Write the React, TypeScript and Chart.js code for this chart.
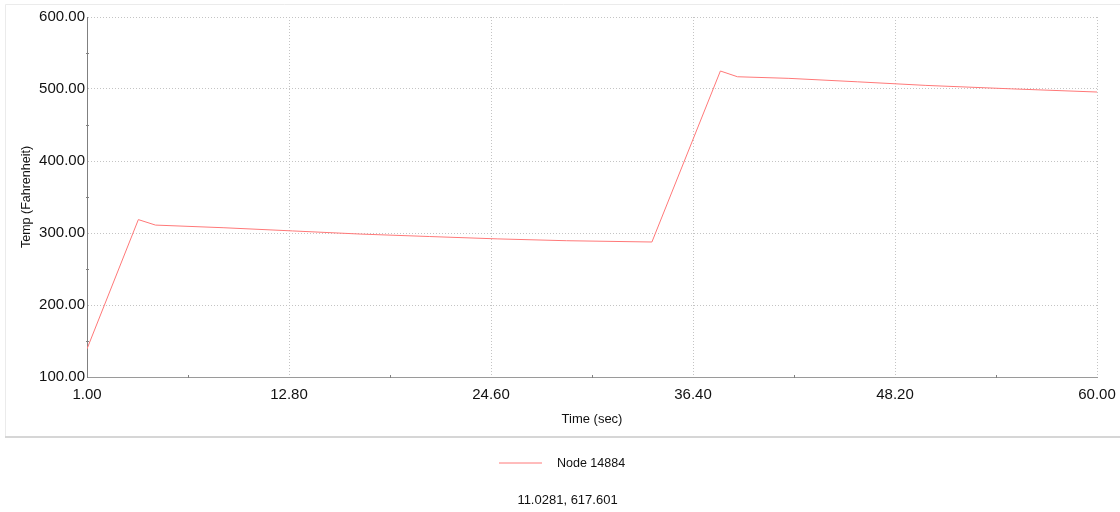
import React, { useEffect, useRef } from "react";
import { Chart, registerables } from "chart.js";

Chart.register(...registerables);

// ---- data ----
const timeSec = [1, 4, 5, 9, 13, 17, 21, 25, 29, 34, 38, 39, 42, 46, 50, 55, 60];
const tempF = [139, 318.6, 311, 307.3, 302.9, 298.5, 295.1, 291.8, 289.3, 287.5, 525, 517, 514.8, 510, 505, 500.2, 495.8];
const xTicks = [1, 12.8, 24.6, 36.4, 48.2, 60];
const yTicks = [100, 200, 300, 400, 500, 600];
const seriesLabel = "Node 14884";
const cursorReadout = "11.0281, 617.601";
const xTitle = "Time (sec)";
const yTitle = "Temp (Fahrenheit)";

const FONT = "'Liberation Sans', Arial, sans-serif";
const LINE_COLOR = "#ff7878";

const midpoints = (arr: number[]) => arr.slice(1).map((v, i) => (arr[i] + v) / 2);

const panelPlugin = {
  id: "panel",
  beforeDraw(chart: any) {
    const ctx = chart.ctx;
    ctx.save();
    ctx.strokeStyle = "#ebebeb";
    ctx.lineWidth = 1;
    ctx.beginPath();
    ctx.moveTo(5.5, 437);
    ctx.lineTo(5.5, 4.5);
    ctx.lineTo(1125, 4.5);
    ctx.stroke();
    ctx.strokeStyle = "#d6d6d6";
    ctx.lineWidth = 2;
    ctx.beginPath();
    ctx.moveTo(5, 437);
    ctx.lineTo(1125, 437);
    ctx.stroke();
    ctx.restore();
  },
  afterDraw(chart: any) {
    const ctx = chart.ctx;
    const xs = chart.scales.x;
    const ys = chart.scales.y;
    ctx.save();
    ctx.strokeStyle = "#808080";
    ctx.lineWidth = 1;
    ctx.beginPath();
    midpoints(xTicks).forEach((v) => {
      const px = Math.round(xs.getPixelForValue(v)) + 0.5;
      ctx.moveTo(px, ys.bottom - 2);
      ctx.lineTo(px, ys.bottom + 1);
    });
    midpoints(yTicks).forEach((v) => {
      const py = Math.round(ys.getPixelForValue(v)) + 0.5;
      ctx.moveTo(xs.left - 1, py);
      ctx.lineTo(xs.left + 2, py);
    });
    ctx.stroke();

    // legend
    const ds = chart.data.datasets[0];
    const cx = (xs.left + xs.right) / 2;
    ctx.strokeStyle = ds.borderColor;
    ctx.lineWidth = 1;
    ctx.beginPath();
    ctx.moveTo(499, 463);
    ctx.lineTo(542, 463);
    ctx.stroke();
    ctx.fillStyle = "#111";
    ctx.textBaseline = "middle";
    ctx.textAlign = "left";
    ctx.font = `12.5px ${FONT}`;
    ctx.fillText(ds.label, 557, 464);
    ctx.textAlign = "center";
    ctx.font = `13px ${FONT}`;
    ctx.fillText(cursorReadout, cx - 24.5, 500);
    ctx.restore();
  },
};

export default function App() {
  const ref = useRef<HTMLCanvasElement | null>(null);
  useEffect(() => {
    if (!ref.current) return;
    const chart = new Chart(ref.current, {
      type: "line",
      data: {
        datasets: [
          {
            label: seriesLabel,
            data: timeSec.map((t, i) => ({ x: t, y: tempF[i] })),
            borderColor: LINE_COLOR,
            borderWidth: 1,
            pointRadius: 0,
            tension: 0,
            fill: false,
          },
        ],
      },
      options: {
        responsive: false,
        animation: false,
        devicePixelRatio: 1,
        layout: { padding: { left: 7, right: 23, top: 17, bottom: 81 } },
        plugins: { legend: { display: false }, tooltip: { enabled: false } },
        scales: {
          x: {
            type: "linear",
            min: 1,
            max: 60,
            afterBuildTicks: (scale: any) => {
              scale.ticks = xTicks.map((v) => ({ value: v }));
            },
            afterFit: (scale: any) => {
              scale.height = 54;
              scale.paddingLeft = 0;
              scale.paddingRight = 0;
            },
            ticks: {
              autoSkip: false,
              maxRotation: 0,
              padding: 9,
              color: "#111",
              font: { family: FONT, size: 15 },
              callback: (v: any) => Number(v).toFixed(2),
            },
            grid: { color: "#c4c4c4", lineWidth: 1, drawTicks: false },
            border: { color: "#9a9a9a", width: 1, dash: [1, 2] },
            title: {
              display: true,
              text: xTitle,
              color: "#111",
              font: { family: FONT, size: 13 },
              padding: { top: 4, bottom: 4 },
            },
          },
          y: {
            type: "linear",
            min: 100,
            max: 600,
            afterBuildTicks: (scale: any) => {
              scale.ticks = yTicks.map((v) => ({ value: v }));
            },
            afterFit: (scale: any) => {
              scale.width = 80;
              scale.paddingTop = 0;
              scale.paddingBottom = 0;
            },
            ticks: {
              padding: 2,
              color: "#111",
              font: { family: FONT, size: 15 },
              callback: (v: any) => Number(v).toFixed(2),
            },
            grid: { color: "#c4c4c4", lineWidth: 1, drawTicks: false },
            border: { color: "#808080", width: 1, dash: [1, 2] },
            title: {
              display: true,
              text: yTitle,
              color: "#111",
              font: { family: FONT, size: 12.5 },
              padding: { top: 12, bottom: 4 },
            },
          },
        },
      },
      plugins: [panelPlugin],
    } as any);
    return () => chart.destroy();
  }, []);
  return (
    <div style={{ position: "absolute", left: 0, top: 0, width: 1120, height: 512, background: "#fff" }}>
      <canvas ref={ref} width={1120} height={512} style={{ display: "block", width: 1120, height: 512 }} />
    </div>
  );
}
